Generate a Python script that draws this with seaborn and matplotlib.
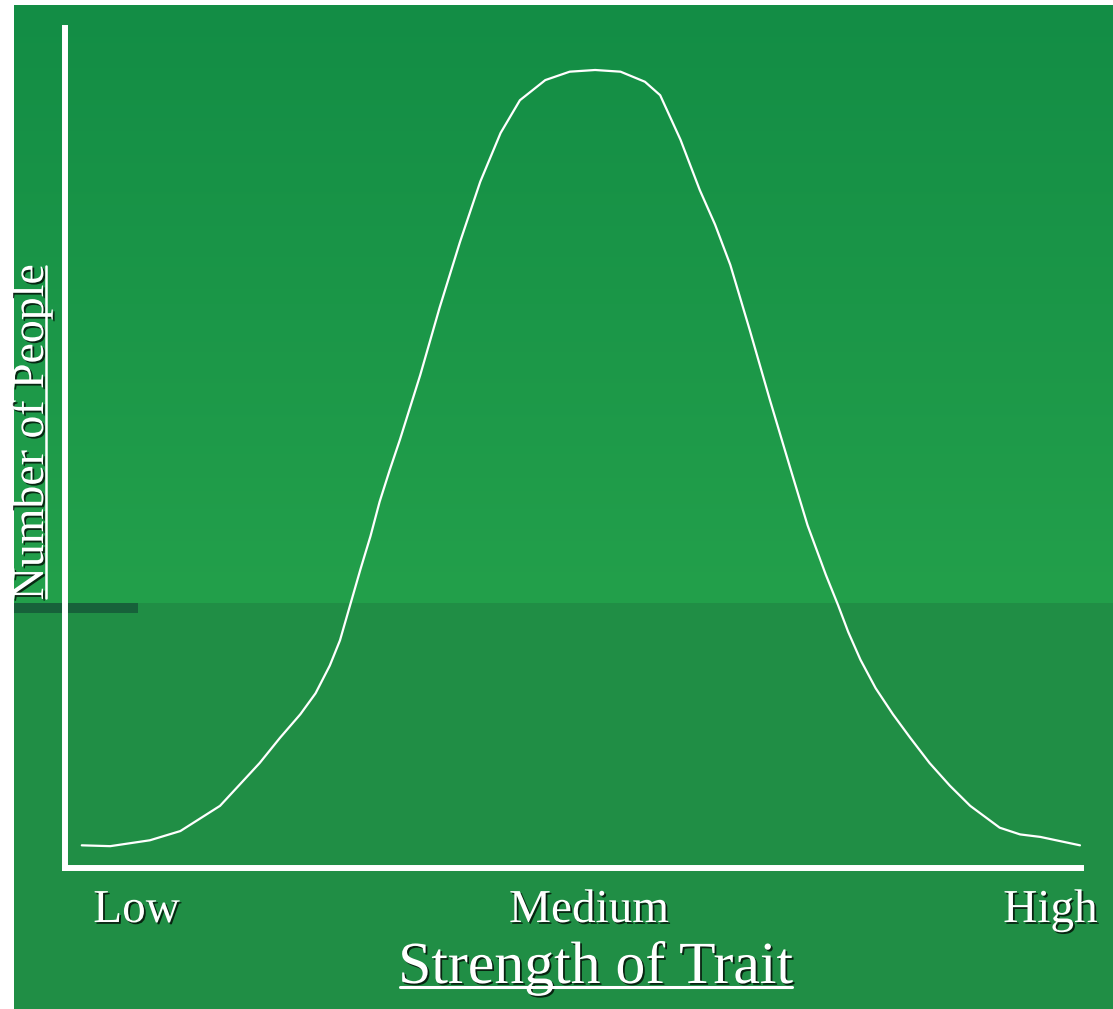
import matplotlib
matplotlib.use("Agg")
import matplotlib.pyplot as plt
import matplotlib.patheffects as pe
from matplotlib.lines import Line2D
from matplotlib.colors import to_rgb
import numpy as np
import pandas as pd
import seaborn as sns

# trait strength (0-100) vs. relative number of people
trait = [1.7, 4.5, 8.4, 11.4, 15.3, 19.2, 21.2, 23.2, 24.7, 26.1, 27.1, 28.1,
         29.1, 30.1, 31.0, 32.0, 33.0, 35.0, 36.9, 38.9, 40.9, 42.9, 44.8, 47.3,
         49.7, 52.2, 54.7, 57.1, 58.6, 60.6, 62.5, 64.0, 65.5, 67.4, 69.4, 71.4,
         73.1, 74.9, 76.1, 77.1, 78.3, 79.8, 81.5, 83.2, 85.1, 87.1, 89.1, 92.0,
         94.0, 96.0, 99.9]
people = [2.7, 2.6, 3.3, 4.4, 7.4, 12.5, 15.5, 18.3, 20.8, 24.1, 27.1, 31.3,
          35.5, 39.5, 43.6, 47.4, 51.0, 58.7, 66.7, 74.5, 81.7, 87.5, 91.4, 93.8,
          94.8, 95.0, 94.8, 93.6, 92.0, 86.7, 80.7, 76.6, 71.8, 64.1, 55.7, 47.6,
          40.8, 34.9, 31.3, 28.1, 24.8, 21.4, 18.3, 15.5, 12.5, 9.8, 7.4, 4.8,
          4.0, 3.7, 2.7]

tick_pos = [7.1, 51.6, 97.0]
tick_labels = ["Low", "Medium", "High"]

x_title = "Strength of Trait"
y_title = "Number of People"

df = pd.DataFrame({"trait": trait, "people": people})

sns.set_style("white")
plt.rcParams["font.family"] = ["Liberation Serif", "DejaVu Serif"]

W, H = 1113, 1009
fig = plt.figure(figsize=(W / 100, H / 100), dpi=100)
fig.patch.set_facecolor("white")

# green slide background with a soft vertical gradient and darker lower band
bg = fig.add_axes([14 / W, 0, (W - 14) / W, (H - 5) / H])
top_c = np.array(to_rgb("#138d45"))
mid_c = np.array(to_rgb("#23a04b"))
low_c = np.array(to_rgb("#208e45"))
rows = H - 5
split = 598
grad = np.zeros((rows, 4, 3))
for i in range(rows):
    if i < split:
        t = i / split
        grad[i, :] = top_c * (1 - t) + mid_c * t
    else:
        grad[i, :] = low_c
bg.imshow(grad, aspect="auto", extent=[0, 1, 0, 1], interpolation="nearest")
# small dark bar on the left edge
bg.add_patch(plt.Rectangle((0, 1 - (613 - 5) / rows), (138 - 14) / (W - 14), 10 / rows,
                           color="#17613a", lw=0))
bg.set_xlim(0, 1)
bg.set_ylim(0, 1)
bg.axis("off")

ax = fig.add_axes([64.5 / W, 1 - 868 / H, (1081 - 64.5) / W, (868 - 28) / H])
ax.set_facecolor("none")
sns.lineplot(data=df, x="trait", y="people", ax=ax, color="white", lw=1.6)
for ln in ax.lines:
    ln.set_solid_joinstyle("round")
ax.set_xlim(0, 100)
ax.set_ylim(0, 100)

for s in ["top", "right"]:
    ax.spines[s].set_visible(False)
for s in ["left", "bottom"]:
    ax.spines[s].set_color("white")
    ax.spines[s].set_linewidth(4.3)
    ax.spines[s].set_capstyle("projecting")

shadow = [pe.withSimplePatchShadow(offset=(1.3, -1.3), shadow_rgbFace="black", alpha=0.75)]

ax.set_yticks([])
ax.set_xticks(tick_pos)
ax.set_xticklabels(tick_labels, fontsize=34, color="white")
ax.tick_params(axis="x", length=0, pad=15.5)
for lab in ax.get_xticklabels():
    lab.set_path_effects(shadow)

ax.set_xlabel(x_title, fontsize=43, color="white", path_effects=shadow)
ax.xaxis.set_label_coords((596 - 64.5) / 1016.5, (868 - 941) / 840)
ax.set_ylabel(y_title, fontsize=33, color="white", path_effects=shadow)
ax.yaxis.set_label_coords((53 - 64.5) / 1016.5, (868 - 432) / 840)

# underline the two titles
fig.canvas.draw()
r = fig.canvas.get_renderer()
inv = fig.transFigure.inverted()

xb = ax.xaxis.label.get_window_extent(r)
uy = xb.y0 + 0.15 * 43 * 100 / 72
p0 = inv.transform((xb.x0 + 2, uy))
p1 = inv.transform((xb.x1 - 2, uy))
fig.add_artist(Line2D([p0[0], p1[0]], [p0[1], p1[1]], transform=fig.transFigure,
                      color="white", lw=2.2, path_effects=shadow))

yb = ax.yaxis.label.get_window_extent(r)
ux = yb.x1 - 0.15 * 33 * 100 / 72
q0 = inv.transform((ux, yb.y0 + 2))
q1 = inv.transform((ux, yb.y1 - 2))
fig.add_artist(Line2D([q0[0], q1[0]], [q0[1], q1[1]], transform=fig.transFigure,
                      color="white", lw=1.8, path_effects=shadow))

fig.savefig("out.png", dpi=100)
